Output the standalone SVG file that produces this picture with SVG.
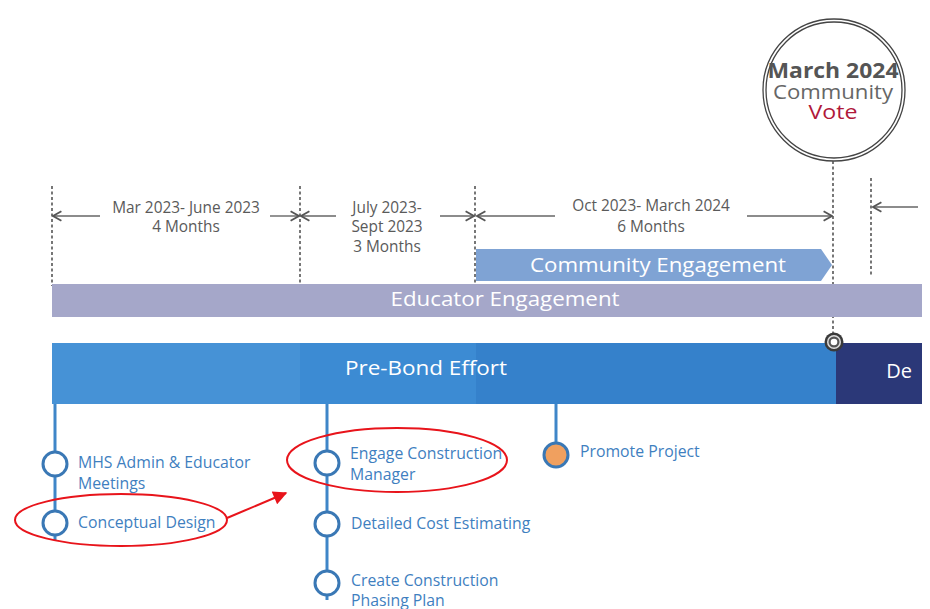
<svg xmlns="http://www.w3.org/2000/svg" width="930" height="609" viewBox="0 0 930 609">
<style>
.date{font-family:"Open Sans","Noto Sans",sans-serif;font-size:15.4px;fill:#5a5a5a;text-anchor:middle}
.bar{font-family:"Open Sans","Noto Sans",sans-serif;font-size:20px;fill:#ffffff;text-anchor:middle}
.item{font-family:"Open Sans","Noto Sans",sans-serif;font-size:15.8px;fill:#3f7fbf}
.dash{stroke:#555;stroke-width:1.6;stroke-dasharray:3 2.5;fill:none}
.arr{stroke:#666;stroke-width:1.4;fill:none}
.stem{stroke:#3f86c8;stroke-width:3;fill:none}
.node{fill:#ffffff;stroke:#3a78b5;stroke-width:3}
.red{fill:none;stroke:#e8141b;stroke-width:2}
</style>
<defs>
<marker id="ah" viewBox="0 0 10 10" refX="9" refY="5" markerWidth="12" markerHeight="12" markerUnits="userSpaceOnUse" orient="auto-start-reverse">
<path d="M2,1 L9,5 L2,9" fill="none" stroke="#555" stroke-width="1.5"/>
</marker>
<marker id="redhead" viewBox="0 0 10 10" refX="9" refY="5" markerWidth="16" markerHeight="14" markerUnits="userSpaceOnUse" orient="auto">
<path d="M0,0 L10,5 L0,10 Z" fill="#e8141b"/>
</marker>
</defs>
<rect width="930" height="609" fill="#ffffff"/>

<g id="vote">
<circle cx="834" cy="90" r="71" fill="#ffffff" stroke="#444" stroke-width="1.3"/>
<circle cx="834" cy="90" r="68" fill="none" stroke="#444" stroke-width="1.3"/>
<text x="833" y="78" font-family="'Open Sans','Noto Sans',sans-serif" font-size="21" font-weight="bold" fill="#555" text-anchor="middle" textLength="131" lengthAdjust="spacingAndGlyphs">March 2024</text>
<text x="833" y="99" font-family="'Open Sans','Noto Sans',sans-serif" font-size="20" fill="#666" text-anchor="middle" textLength="120" lengthAdjust="spacingAndGlyphs">Community</text>
<text x="833" y="119" font-family="'Open Sans','Noto Sans',sans-serif" font-size="20" fill="#b0183a" text-anchor="middle" textLength="49" lengthAdjust="spacingAndGlyphs">Vote</text>
</g>

<g id="periods">
<line class="dash" x1="52" y1="186" x2="52" y2="286"/>
<line class="dash" x1="300" y1="186" x2="300" y2="286"/>
<line class="dash" x1="475" y1="186" x2="475" y2="286"/>
<line class="dash" x1="833" y1="161" x2="833" y2="336"/>
<line class="dash" x1="871" y1="178" x2="871" y2="276"/>
</g>

<g id="connectors">
<line class="arr" x1="100" y1="216" x2="53" y2="216" marker-end="url(#ah)"/>
<line class="arr" x1="270" y1="216" x2="299" y2="216" marker-end="url(#ah)"/>
<line class="arr" x1="336" y1="216" x2="301" y2="216" marker-end="url(#ah)"/>
<line class="arr" x1="440" y1="216" x2="474" y2="216" marker-end="url(#ah)"/>
<line class="arr" x1="555" y1="216" x2="477" y2="216" marker-end="url(#ah)"/>
<line class="arr" x1="747" y1="216" x2="832" y2="216" marker-end="url(#ah)"/>
<line class="arr" x1="918" y1="207" x2="873" y2="207" marker-end="url(#ah)"/>
<line class="stem" x1="55" y1="404" x2="55" y2="540"/>
<line class="stem" x1="327" y1="404" x2="327" y2="600"/>
<line class="stem" x1="556" y1="404" x2="556" y2="442"/>
<line x1="227" y1="518" x2="286" y2="493" stroke="#e8141b" stroke-width="2" marker-end="url(#redhead)"/>
</g>

<g id="period-labels">
<text class="date" x="186" y="213">Mar 2023- June 2023</text>
<text class="date" x="186" y="232">4 Months</text>
<text class="date" x="387" y="213">July 2023-</text>
<text class="date" x="387" y="232">Sept 2023</text>
<text class="date" x="387" y="252">3 Months</text>
<text class="date" x="651" y="211">Oct 2023- March 2024</text>
<text class="date" x="651" y="232">6 Months</text>
</g>

<g id="community-engagement">
<path d="M476,249 L821,249 L832,265 L821,281 L476,281 Z" fill="#7fa3d4"/>
<text class="bar" x="658" y="272" font-size="21" textLength="256" lengthAdjust="spacingAndGlyphs">Community Engagement</text>
</g>

<g id="educator-engagement">
<rect x="52" y="284" width="870" height="33" fill="#a5a7c9"/>
<text class="bar" x="505" y="306" textLength="229" lengthAdjust="spacingAndGlyphs">Educator Engagement</text>
</g>

<g id="pre-bond">
<rect x="52" y="343" width="248" height="61" fill="#4692d6"/>
<rect x="300" y="343" width="176" height="61" fill="#3c8bd3"/>
<rect x="476" y="343" width="360" height="61" fill="#3581cb"/>
<text class="bar" x="426" y="375" font-size="21" textLength="162" lengthAdjust="spacingAndGlyphs">Pre-Bond Effort</text>
</g>

<g id="design-bond">
<rect x="836" y="343" width="86" height="61" fill="#2b3878"/>
<text class="bar" x="899" y="378" text-anchor="start" font-size="21">De</text>
</g>

<g id="vote-marker">
<circle cx="834" cy="342" r="9.5" fill="#3a3a3a"/>
<circle cx="834" cy="342" r="7" fill="#dddddd"/>
<circle cx="834" cy="342" r="5.5" fill="#555"/>
<circle cx="834" cy="342" r="3.3" fill="#ffffff"/>
</g>

<g id="mhs-meetings">
<circle class="node" cx="55" cy="464" r="12"/>
<text class="item" x="78" y="468">MHS Admin &amp; Educator</text>
<text class="item" x="78" y="489">Meetings</text>
</g>

<g id="conceptual-design">
<circle class="node" cx="55" cy="523" r="12"/>
<text class="item" x="78" y="528">Conceptual Design</text>
<ellipse class="red" cx="121" cy="520" rx="106" ry="26"/>
</g>

<g id="engage-cm">
<circle class="node" cx="327" cy="463" r="12"/>
<text class="item" x="350" y="459">Engage Construction</text>
<text class="item" x="350" y="480">Manager</text>
<ellipse class="red" cx="397" cy="460" rx="110" ry="32"/>
</g>

<g id="cost-estimating">
<circle class="node" cx="327" cy="524" r="12"/>
<text class="item" x="351" y="529">Detailed Cost Estimating</text>
</g>

<g id="phasing-plan">
<circle class="node" cx="327" cy="583" r="12"/>
<text class="item" x="351" y="586">Create Construction</text>
<text class="item" x="351" y="606">Phasing Plan</text>
</g>

<g id="promote-project">
<circle cx="556" cy="455" r="12" fill="#f0a05f" stroke="#3a78b5" stroke-width="3"/>
<text class="item" x="580" y="457">Promote Project</text>
</g>
</svg>
